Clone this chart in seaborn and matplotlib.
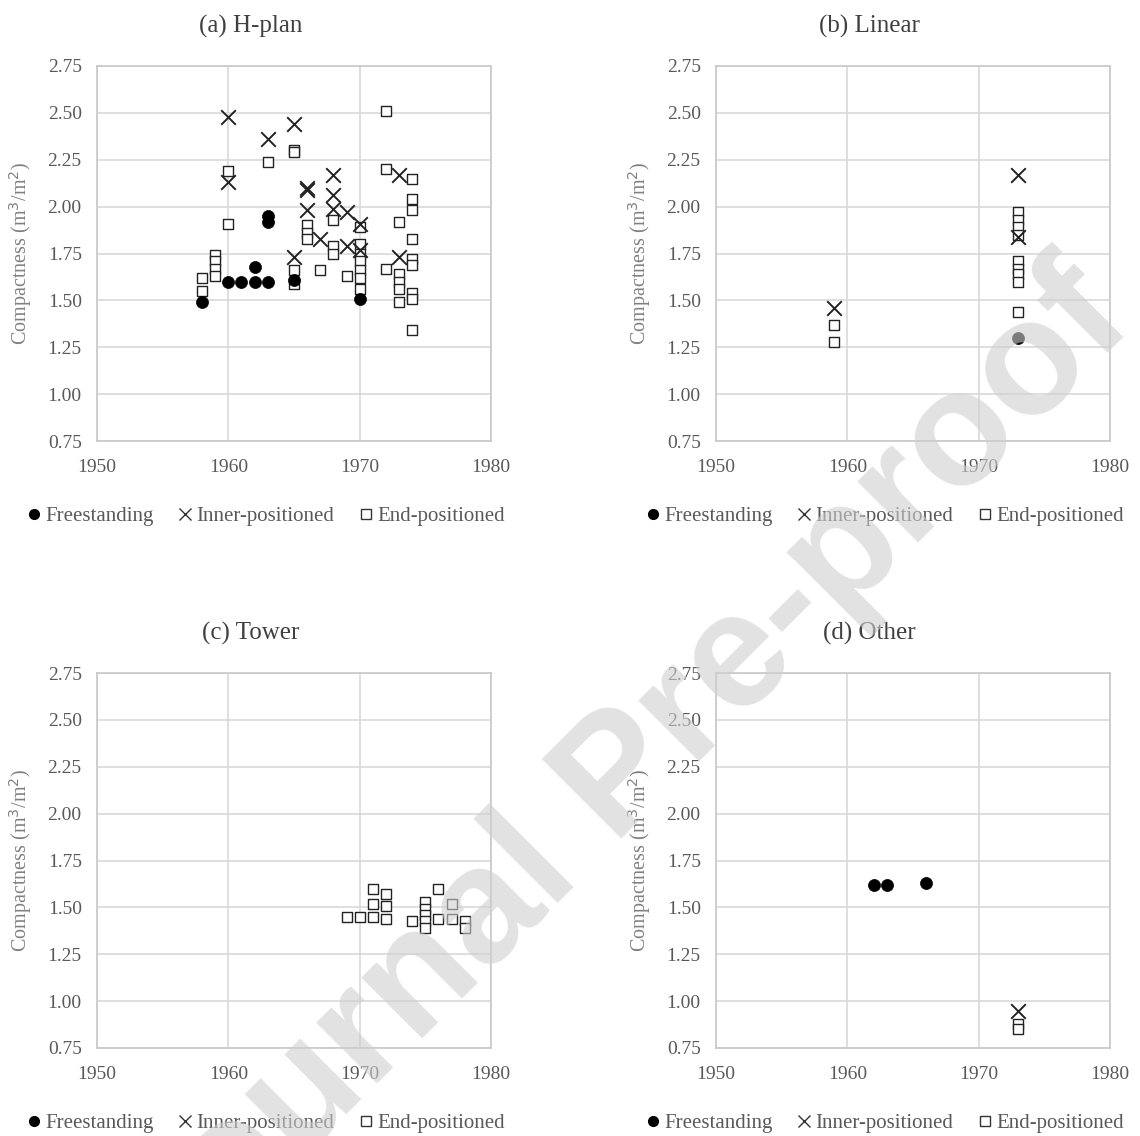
import numpy as np
import pandas as pd
import matplotlib
matplotlib.use("Agg")
import matplotlib.pyplot as plt
from matplotlib.lines import Line2D
import seaborn as sns

sns.set_theme(style="white")
plt.rcParams["font.family"] = ["Liberation Serif", "DejaVu Serif"]

# (a) H-plan
h_free_year = [1958, 1960, 1961, 1962, 1962, 1963, 1963, 1963, 1965, 1970]
h_free_val = [1.49, 1.60, 1.60, 1.60, 1.68, 1.60, 1.95, 1.92, 1.61, 1.51]
h_inner_year = [1960, 1960, 1963, 1965, 1965, 1966, 1966, 1966, 1967, 1968, 1968, 1968,
                1969, 1969, 1970, 1970, 1973, 1973]
h_inner_val = [2.48, 2.13, 2.36, 2.44, 1.73, 2.10, 2.09, 1.98, 1.83, 2.17, 2.06, 1.99,
               1.97, 1.79, 1.91, 1.77, 2.17, 1.73]
h_end_year = [1958, 1958, 1959, 1959, 1959, 1959, 1960, 1960, 1963, 1965, 1965, 1965, 1965,
              1966, 1966, 1966, 1967, 1968, 1968, 1968, 1969,
              1970, 1970, 1970, 1970, 1970, 1970, 1970,
              1972, 1972, 1972, 1973, 1973, 1973, 1973, 1973,
              1974, 1974, 1974, 1974, 1974, 1974, 1974, 1974, 1974]
h_end_val = [1.62, 1.55, 1.74, 1.71, 1.67, 1.63, 2.19, 1.91, 2.24, 2.30, 2.29, 1.66, 1.59,
             1.90, 1.86, 1.83, 1.66, 1.93, 1.79, 1.75, 1.63,
             1.89, 1.80, 1.75, 1.71, 1.66, 1.62, 1.56,
             2.51, 2.20, 1.67, 1.92, 1.64, 1.60, 1.56, 1.49,
             2.15, 2.04, 1.98, 1.83, 1.72, 1.69, 1.54, 1.51, 1.34]

# (b) Linear
l_free_year = [1973]
l_free_val = [1.30]
l_inner_year = [1959, 1973, 1973]
l_inner_val = [1.46, 2.17, 1.84]
l_end_year = [1959, 1959, 1973, 1973, 1973, 1973, 1973, 1973, 1973, 1973, 1973]
l_end_val = [1.37, 1.28, 1.97, 1.93, 1.89, 1.85, 1.71, 1.67, 1.64, 1.60, 1.44]

# (c) Tower
t_free_year, t_free_val = [], []
t_inner_year, t_inner_val = [], []
t_end_year = [1969, 1970, 1971, 1971, 1971, 1972, 1972, 1972, 1974,
              1975, 1975, 1975, 1975, 1975, 1976, 1976, 1977, 1977, 1978, 1978]
t_end_val = [1.45, 1.45, 1.60, 1.52, 1.45, 1.57, 1.51, 1.44, 1.43,
             1.53, 1.49, 1.46, 1.43, 1.39, 1.60, 1.44, 1.52, 1.44, 1.43, 1.39]

# (d) Other
o_free_year = [1962, 1963, 1966]
o_free_val = [1.62, 1.62, 1.63]
o_inner_year = [1973]
o_inner_val = [0.95]
o_end_year = [1973, 1973]
o_end_val = [0.88, 0.85]

panels = [
    ("(a) H-plan", h_free_year, h_free_val, h_inner_year, h_inner_val, h_end_year, h_end_val),
    ("(b) Linear", l_free_year, l_free_val, l_inner_year, l_inner_val, l_end_year, l_end_val),
    ("(c) Tower", t_free_year, t_free_val, t_inner_year, t_inner_val, t_end_year, t_end_val),
    ("(d) Other", o_free_year, o_free_val, o_inner_year, o_inner_val, o_end_year, o_end_val),
]

grey_text = "#595959"
grid_col = "#d9d9d9"

fig = plt.figure(figsize=(11.4, 11.36), dpi=100)
W, H = 1140, 1136
# axes boxes in pixel coords: left, top, right, bottom
boxes = [(97, 66, 491, 441), (716, 66, 1110, 441),
         (97, 673, 491, 1048), (716, 673, 1110, 1048)]

for (title, fy, fv, iy, iv, ey, ev), (l, t, r, b) in zip(panels, boxes):
    ax = fig.add_axes([l / W, 1 - b / H, (r - l) / W, (b - t) / H])
    df_f = pd.DataFrame({"year": fy, "val": fv})
    df_i = pd.DataFrame({"year": iy, "val": iv})
    df_e = pd.DataFrame({"year": ey, "val": ev})
    if len(df_e):
        sns.scatterplot(data=df_e, x="year", y="val", ax=ax, marker="s", s=60,
                        facecolor="white", edgecolor="#222222", linewidth=1.0, zorder=3)
    if len(df_f):
        sns.scatterplot(data=df_f, x="year", y="val", ax=ax, marker="o", s=75,
                        color="black", edgecolor="black", linewidth=0.5, zorder=4)
    if len(df_i):
        sns.scatterplot(data=df_i, x="year", y="val", ax=ax, marker="x", s=110,
                        color="#222222", linewidth=1.4, zorder=5)

    ax.set_xlim(1950, 1980)
    ax.set_ylim(0.75, 2.75)
    ax.set_xticks([1950, 1960, 1970, 1980])
    ax.set_yticks(np.arange(0.75, 2.76, 0.25))
    ax.set_yticklabels([f"{v:.2f}" for v in np.arange(0.75, 2.76, 0.25)])
    ax.grid(True, color=grid_col, linewidth=1.2)
    ax.set_axisbelow(True)
    for sp in ax.spines.values():
        sp.set_color("#c8c8c8")
        sp.set_linewidth(1.2)
    ax.tick_params(axis="y", length=0, labelsize=14, colors=grey_text, pad=11)
    ax.tick_params(axis="x", length=0, labelsize=14, colors=grey_text, pad=13)
    ax.set_xlabel("")
    ax.set_ylabel("Compactness (m$^3$/m$^2$)", fontsize=14.5, color="#808080", labelpad=10)
    ax.set_title(title, fontsize=18, color="#404040", pad=24, x=0.39)

    handles = [
        Line2D([], [], marker="o", linestyle="none", color="black", markersize=7),
        Line2D([], [], marker="x", linestyle="none", color="#333333", markersize=8,
               markeredgewidth=1.0),
        Line2D([], [], marker="s", linestyle="none", markerfacecolor="white",
               markeredgecolor="#333333", markersize=7),
    ]
    ax.legend(handles, ["Freestanding", "Inner-positioned", "End-positioned"],
              loc="upper center", bbox_to_anchor=(0.424, -0.125), ncol=3, frameon=False,
              handletextpad=0.05, columnspacing=1.0, handlelength=1.0,
              prop={"size": 15}, labelcolor=grey_text)

fig.text(0.544, 0.313, "Journal Pre-proof", fontsize=118, rotation=45,
         color="#cfcfcf", alpha=0.6, ha="center", va="center",
         family="Liberation Sans", fontweight="bold", zorder=10)

fig.savefig("out.png", dpi=100, facecolor="white")
